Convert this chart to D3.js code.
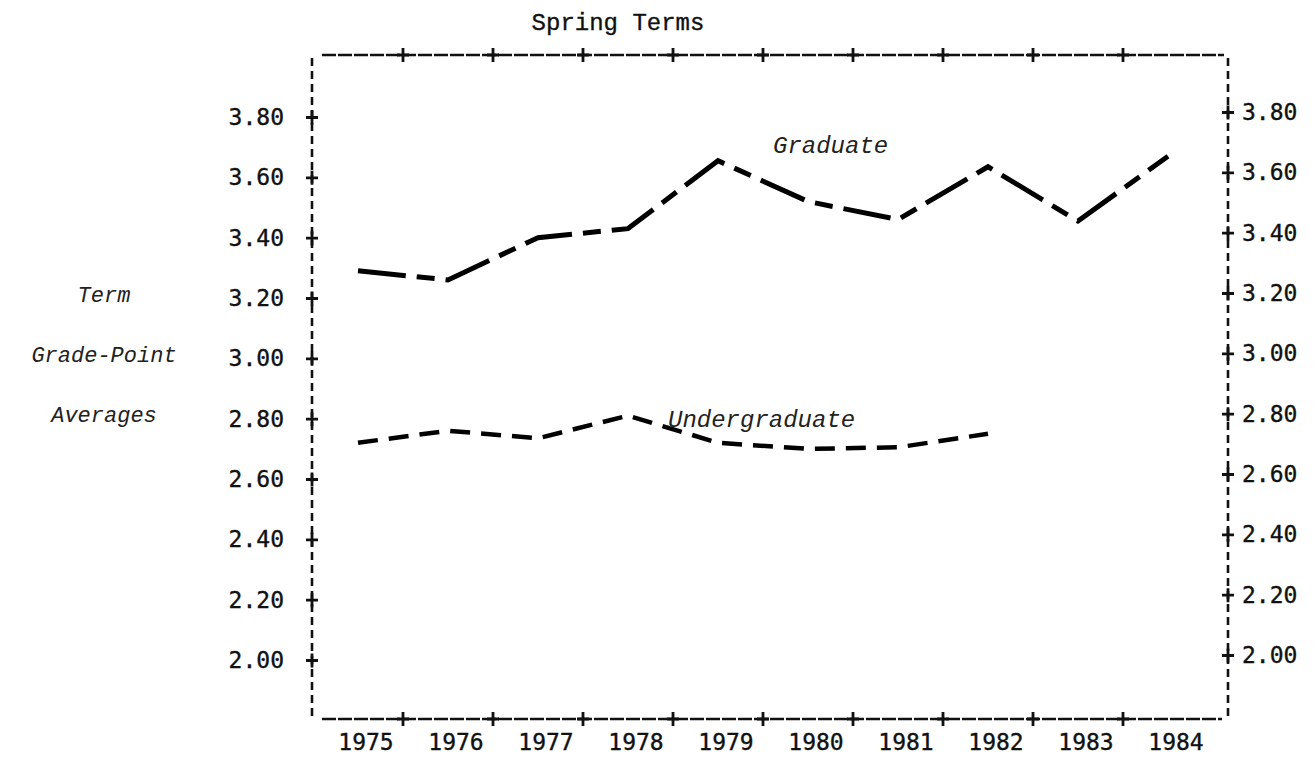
<!DOCTYPE html>
<html>
<head>
<meta charset="utf-8">
<script src="https://cdn.jsdelivr.net/npm/d3@7"></script>
<style>
	body { margin: 0; background: #fff; }
	svg { display: block; }
	.tick-label { font-family: "DejaVu Sans Mono", monospace; font-size: 23px; fill: #111; stroke: #111; stroke-width: 0.35px; }
	.note { font-family: "Liberation Mono", monospace; font-style: italic; fill: #222; }
</style>
</head>
<body>
<div id="chart"></div>
<script>
// spring term grade point averages
var years = ["1975", "1976", "1977", "1978", "1979", "1980", "1981", "1982", "1983", "1984"];
var graduate = [3.29, 3.26, 3.40, 3.43, 3.655, 3.52, 3.46, 3.635, 3.455, 3.67];
var undergraduate = [2.72, 2.76, 2.735, 2.81, 2.72, 2.70, 2.705, 2.75];
var yTicks = [2.00, 2.20, 2.40, 2.60, 2.80, 3.00, 3.20, 3.40, 3.60, 3.80];
var yTitle = ["Term", "Grade-Point", "Averages"];

var width = 1316, height = 757;
var frame = { left: 312, right: 1228, top: 55, bottom: 719 };

var svg = d3.select("#chart").append("svg")
	.attr("width", width)
	.attr("height", height);

var x = d3.scaleBand().domain(years).range([313, 1213]).padding(0);
var y = d3.scaleLinear().domain([2.0, 3.8]).range([660, 117]);

var plus = "M-6,0H6M0,-7V7";

// frame, typed look: hyphens across, bangs down
var border = svg.append("g").attr("stroke", "#111").attr("fill", "none");
border.append("line")
	.attr("x1", frame.left + 10).attr("x2", frame.right - 4)
	.attr("y1", frame.top).attr("y2", frame.top)
	.attr("stroke-width", 2.4).attr("stroke-dasharray", "14,2");
border.append("line")
	.attr("x1", frame.left + 10).attr("x2", frame.right - 6)
	.attr("y1", frame.bottom).attr("y2", frame.bottom)
	.attr("stroke-width", 2.4).attr("stroke-dasharray", "14,2");
[frame.left, frame.right].forEach(function(px){
	border.append("line")
		.attr("x1", px).attr("x2", px)
		.attr("y1", frame.top + 3).attr("y2", frame.bottom + 2)
		.attr("stroke-width", 2.6).attr("stroke-dasharray", "8,5");
});

// plus marks on top and bottom between the years
var bounds = years.slice(1).map(function(d){ return x(d); });
[frame.top, frame.bottom].forEach(function(py){
	border.selectAll(null)
		.data(bounds)
		.enter().append("path")
		.attr("d", plus)
		.attr("stroke-width", 2.8)
		.attr("transform", function(d){ return "translate(" + d + "," + py + ")"; });
});

// y axes
var fmt = d3.format(".2f");
var left = svg.append("g")
	.attr("transform", "translate(" + frame.left + ",0)")
	.call(d3.axisLeft(y).tickValues(yTicks).tickFormat(fmt).tickSize(0).tickPadding(28));
var right = svg.append("g")
	.attr("transform", "translate(" + frame.right + ",-5)")
	.call(d3.axisRight(y).tickValues(yTicks).tickFormat(fmt).tickSize(0).tickPadding(14));

[left, right].forEach(function(ax){
	ax.select(".domain").remove();
	ax.selectAll(".tick text").attr("class", "tick-label");
	ax.selectAll(".tick").append("path")
		.attr("d", plus)
		.attr("stroke", "#111")
		.attr("stroke-width", 2.8)
		.attr("fill", "none");
	ax.attr("font-family", null).attr("font-size", null);
});

// x axis labels under the frame, typed a little right of the points
var bottom = svg.append("g")
	.attr("transform", "translate(8," + frame.bottom + ")")
	.call(d3.axisBottom(x).tickSize(0).tickPadding(15));
bottom.select(".domain").remove();
bottom.attr("font-family", null).attr("font-size", null);
bottom.selectAll(".tick text").attr("class", "tick-label");

// title
svg.append("text")
	.attr("class", "tick-label")
	.attr("x", 618)
	.attr("y", 30)
	.attr("text-anchor", "middle")
	.style("font-family", "'Liberation Mono', monospace")
	.style("font-size", "24px")
	.text("Spring Terms");

// y title
svg.selectAll(".ytitle")
	.data(yTitle)
	.enter().append("text")
	.attr("class", "note")
	.attr("x", 104)
	.attr("y", function(d, i){ return y(3.2 - i * 0.2) - 4; })
	.attr("dy", "0.35em")
	.attr("text-anchor", "middle")
	.style("font-size", "22px")
	.text(function(d){ return d; });

// lines
var line = d3.line()
	.x(function(d){ return x(d.year) + x.bandwidth() / 2; })
	.y(function(d){ return y(d.value); });

function series(values){
	return values.map(function(v, i){ return { year: years[i], value: v }; });
}

svg.append("path")
	.datum(series(graduate))
	.attr("d", line)
	.attr("fill", "none")
	.attr("stroke", "#000")
	.attr("stroke-width", 5)
	.attr("stroke-dasharray", "48,11,18,11");

svg.append("path")
	.datum(series(undergraduate))
	.attr("d", line)
	.attr("fill", "none")
	.attr("stroke", "#000")
	.attr("stroke-width", 4.5)
	.attr("stroke-dasharray", "20,11");

// series names
svg.append("text")
	.attr("class", "note")
	.attr("x", x("1979") + x.bandwidth() / 2 + 55)
	.attr("y", y(3.71))
	.attr("dy", "0.35em")
	.style("font-size", "24px")
	.text("Graduate");

svg.append("text")
	.attr("class", "note")
	.attr("x", x("1978") + x.bandwidth() / 2 + 40)
	.attr("y", y(2.80))
	.attr("dy", "0.35em")
	.style("font-size", "24px")
	.text("Undergraduate");
</script>
</body>
</html>
